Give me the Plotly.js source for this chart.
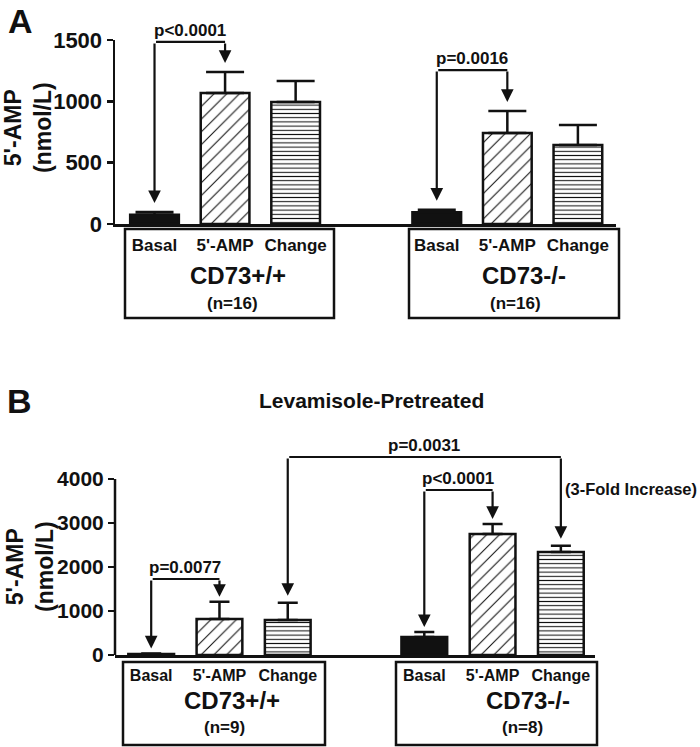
<!DOCTYPE html>
<html>
<head>
<meta charset="utf-8">
<script src="https://cdn.plot.ly/plotly-3.0.1.min.js"></script>
<style>html,body{margin:0;padding:0;background:#fff}#chart{width:700px;height:747px}</style>
</head>
<body>
<div id="chart"></div>
<script>
// ---------- data ----------
const categories = ['Basal', "5'-AMP", 'Change'];
const groupNames = ['CD73+/+', 'CD73-/-'];
const nA = ['(n=16)', '(n=16)'];
const nB = ['(n=9)', '(n=8)'];

// Panel A (untreated)
const aBasal = [75, 95];        const aBasalErr = [22, 22];
const aAmp = [1068, 742];       const aAmpErr = [171, 180];
const aChange = [995, 644];     const aChangeErr = [171, 163];

// Panel B (Levamisole-pretreated)
const bBasal = [25, 410];       const bBasalErr = [10, 110];
const bAmp = [818, 2750];       const bAmpErr = [390, 230];
const bChange = [795, 2341];    const bChangeErr = [390, 140];

const yTicksA = [0, 500, 1000, 1500];
const yTicksB = [0, 1000, 2000, 3000, 4000];

const pLabelsA = ['p<0.0001', 'p=0.0016'];
const pLabelsB = ['p=0.0077', 'p<0.0001', 'p=0.0031'];
const foldNote = '(3-Fold Increase)';
const titleB = 'Levamisole-Pretreated';
const yTitle = "5'-AMP<br>(nmol/L)";

// ---------- helpers ----------
const W = 700, H = 747;
const px = x => x / W;
const py = y => 1 - y / H;
const FAM = 'Liberation Sans, Arial, Helvetica, sans-serif';
const INK = '#111';
const f = (size) => ({family: FAM, size: size, color: INK, weight: 'bold'});
// slot position of bar (group g, category c)
const pos = (g, c) => g * 4 + c;
const xs = c => [pos(0, c), pos(1, c)];

const tickVals = [0, 1, 2].map(c => pos(0, c)).concat([0, 1, 2].map(c => pos(1, c)));
const tickText = categories.concat(categories);

function barTraces(vals, errs, xa, ya, width, capW, lw) {
  const styles = [
    {color: INK, pattern: {shape: ''}},
    {color: 'white', pattern: {shape: '/', fgcolor: INK, bgcolor: 'white', size: 9, solidity: 0.12}},
    {color: 'white', pattern: {shape: '-', fgcolor: INK, bgcolor: 'white', size: 4.2, solidity: 0.25}}
  ];
  return vals.map((v, c) => ({
    type: 'bar', x: xs(c), y: v, xaxis: xa, yaxis: ya, width: width, name: categories[c],
    marker: {color: styles[c].color, pattern: styles[c].pattern, line: {color: INK, width: lw}},
    error_y: {type: 'data', array: errs[c], arrayminus: [0, 0], symmetric: false,
              color: INK, thickness: 2.5, width: capW},
    showlegend: false, hoverinfo: 'skip'
  }));
}

const traces = []
  .concat(barTraces([aBasal, aAmp, aChange], [aBasalErr, aAmpErr, aChangeErr], 'x', 'y', 0.69, 19, 2.5))
  .concat(barTraces([bBasal, bAmp, bChange], [bBasalErr, bAmpErr, bChangeErr], 'x2', 'y2', 0.67, 10, 2.5));

function bracket(xr, yr, x1, tip1, x2, tip2, level, label, standoff) {
  const arrow = {xref: xr, yref: yr, axref: xr, ayref: yr, text: '', showarrow: true,
                 arrowhead: 2, arrowsize: 1.15, arrowwidth: 2.2, arrowcolor: INK};
  return [
    Object.assign({}, arrow, {x: x1, y: tip1, ax: x1, ay: level, standoff: standoff}),
    Object.assign({}, arrow, {x: x2, y: tip2, ax: x2, ay: level, standoff: standoff}),
    Object.assign({}, arrow, {x: x2, y: level, ax: x1, ay: level, arrowhead: 0}),
    {xref: xr, yref: yr, x: (x1 + x2) / 2, y: level, text: label, showarrow: false,
     xanchor: 'center', yanchor: 'bottom', font: f(17)}
  ];
}

const annotations = []
  .concat(bracket('x', 'y', pos(0,0), aBasal[0] + aBasalErr[0], pos(0,1), aAmp[0] + aAmpErr[0], 1484, pLabelsA[0], 9))
  .concat(bracket('x', 'y', pos(1,0), aBasal[1] + aBasalErr[1], pos(1,1), aAmp[1] + aAmpErr[1], 1255, pLabelsA[1], 9))
  .concat(bracket('x2', 'y2', pos(0,0), bBasal[0] + bBasalErr[0], pos(0,1), bAmp[0] + bAmpErr[0], 1727, pLabelsB[0], 5))
  .concat(bracket('x2', 'y2', pos(1,0), bBasal[1] + bBasalErr[1], pos(1,1), bAmp[1] + bAmpErr[1], 3750, pLabelsB[1], 5))
  .concat(bracket('x2', 'y2', pos(0,2), bChange[0] + bChangeErr[0], pos(1,2), bChange[1] + bChangeErr[1], 4500, pLabelsB[2], 7));

const pa = (x, y, text, size, extra) => Object.assign({xref: 'paper', yref: 'paper', x: px(x), y: py(y),
  text: text, showarrow: false, xanchor: 'center', yanchor: 'middle', font: f(size)}, extra || {});

annotations.push(
  {xref: 'x2', yref: 'y2', x: pos(1,2), y: 3773, xanchor: 'left', yanchor: 'middle', xshift: 2,
   text: foldNote, showarrow: false, font: f(16.5)},
  pa(371.5, 400, titleB, 21),
  pa(20, 0, 'A', 34, {yanchor: 'top'}),
  pa(19, 380, 'B', 34, {yanchor: 'top'}),
  pa(28, 128, yTitle, 23, {textangle: -90}),
  pa(30, 567, yTitle, 23, {textangle: -90}),
  pa(238.5, 275, groupNames[0], 24),
  pa(232.5, 304, nA[0], 17),
  pa(524, 275, groupNames[1], 24),
  pa(515, 304, nA[1], 17),
  pa(232, 700, groupNames[0], 24),
  pa(224, 727, nB[0], 17),
  pa(528, 700, groupNames[1], 24),
  pa(522, 727, nB[1], 17)
);

const box = (x0, y0, x1, y1) => ({type: 'rect', xref: 'paper', yref: 'paper',
  x0: px(x0), x1: px(x1), y0: py(y0), y1: py(y1), line: {color: INK, width: 2.5}});

const shapes = [
  box(125, 229, 334, 318), box(409, 229, 619, 318),
  box(123, 662, 325, 745), box(396, 662, 597, 745),
  {type: 'line', xref: 'x2 domain', yref: 'y2', x0: 0, x1: 0, y0: 0, y1: yTicksB[yTicksB.length - 1],
   line: {color: INK, width: 2.5}}
];

const xCommon = {tickmode: 'array', tickvals: tickVals, ticktext: tickText, ticks: '',
  showline: true, linecolor: INK, linewidth: 2.5, showgrid: false, zeroline: false,
  ticklabelstandoff: 4, fixedrange: true};
const yCommon = {tickmode: 'array', ticks: 'outside', ticklen: 6, tickwidth: 2.5, tickcolor: INK,
  showgrid: false, zeroline: false, fixedrange: true, ticklabelstandoff: 0};

const layout = {
  width: W, height: H, margin: {l: 0, r: 0, t: 0, b: 0},
  paper_bgcolor: 'white', plot_bgcolor: 'white', barmode: 'overlay',
  xaxis: Object.assign({}, xCommon, {domain: [px(115), px(616)], range: [-0.56, 6.54], anchor: 'y', tickfont: f(17)}),
  yaxis: Object.assign({}, yCommon, {domain: [py(224), py(40)], range: [0, 1500], tickvals: yTicksA,
    showline: true, linecolor: INK, linewidth: 2.5, anchor: 'x', tickfont: f(22)}),
  xaxis2: Object.assign({}, xCommon, {domain: [px(115), px(595)], range: [-0.53, 6.5], anchor: 'y2', tickfont: f(16)}),
  yaxis2: Object.assign({}, yCommon, {domain: [py(655), py(448.2)], range: [0, 4700], tickvals: yTicksB,
    showline: false, anchor: 'x2', tickfont: f(21)}),
  annotations: annotations, shapes: shapes, showlegend: false
};

Plotly.newPlot('chart', traces, layout, {staticPlot: true, displayModeBar: false});
</script>
</body>
</html>
